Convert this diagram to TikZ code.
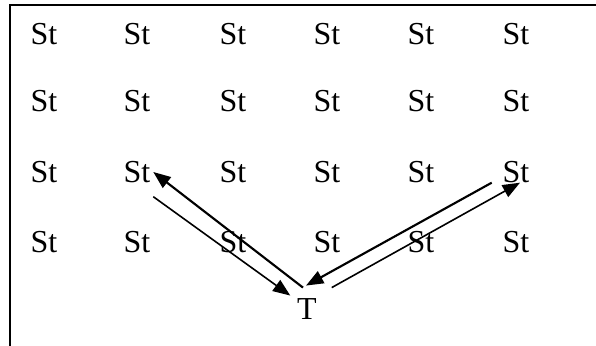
\documentclass[tikz,border=0pt]{standalone}
\usepackage{fontspec}
\setmainfont{Liberation Serif}
\usetikzlibrary{arrows.meta}
\tikzset{
  cell/.style={font=\fontsize{24}{28}\selectfont,inner sep=2pt},
  arrow/.style={-{Triangle[length=13pt,width=10pt]},line width=1.6pt},
  thinarrow/.style={-{Triangle[length=13pt,width=10pt]},line width=1.2pt},
}
\begin{document}
\begin{tikzpicture}[x=0.75pt,y=0.75pt]
  \useasboundingbox (0,0) rectangle (596,346);
  \draw[line width=1.8pt] (10,0) -- (10,341) -- (596,341);
  % grid of stations
  \foreach \r/\y in {1/312,2/245,3/174,4/104}
    \foreach \c/\x in {1/44,2/137,3/233,4/327,5/421,6/516}
      \node[cell] (s\r\c) at (\x,\y) {St};
  \node[cell] (t) at (307,37) {T};
  % left pair
  \draw[arrow] ([shift={(-4,8)}]t.north) -- (s32.east);
  \draw[thinarrow] ([shift={(0,-11)}]s32.south east) -- ([shift={(-4,0)}]t.north west);
  % right pair
  \draw[arrow] ([shift={(-8,3)}]s36.south west) -- ([shift={(-1,10)}]t.north);
  \draw[thinarrow] ([shift={(12,8)}]t.north east) -- ([shift={(4,3)}]s36.south);
\end{tikzpicture}
\end{document}
